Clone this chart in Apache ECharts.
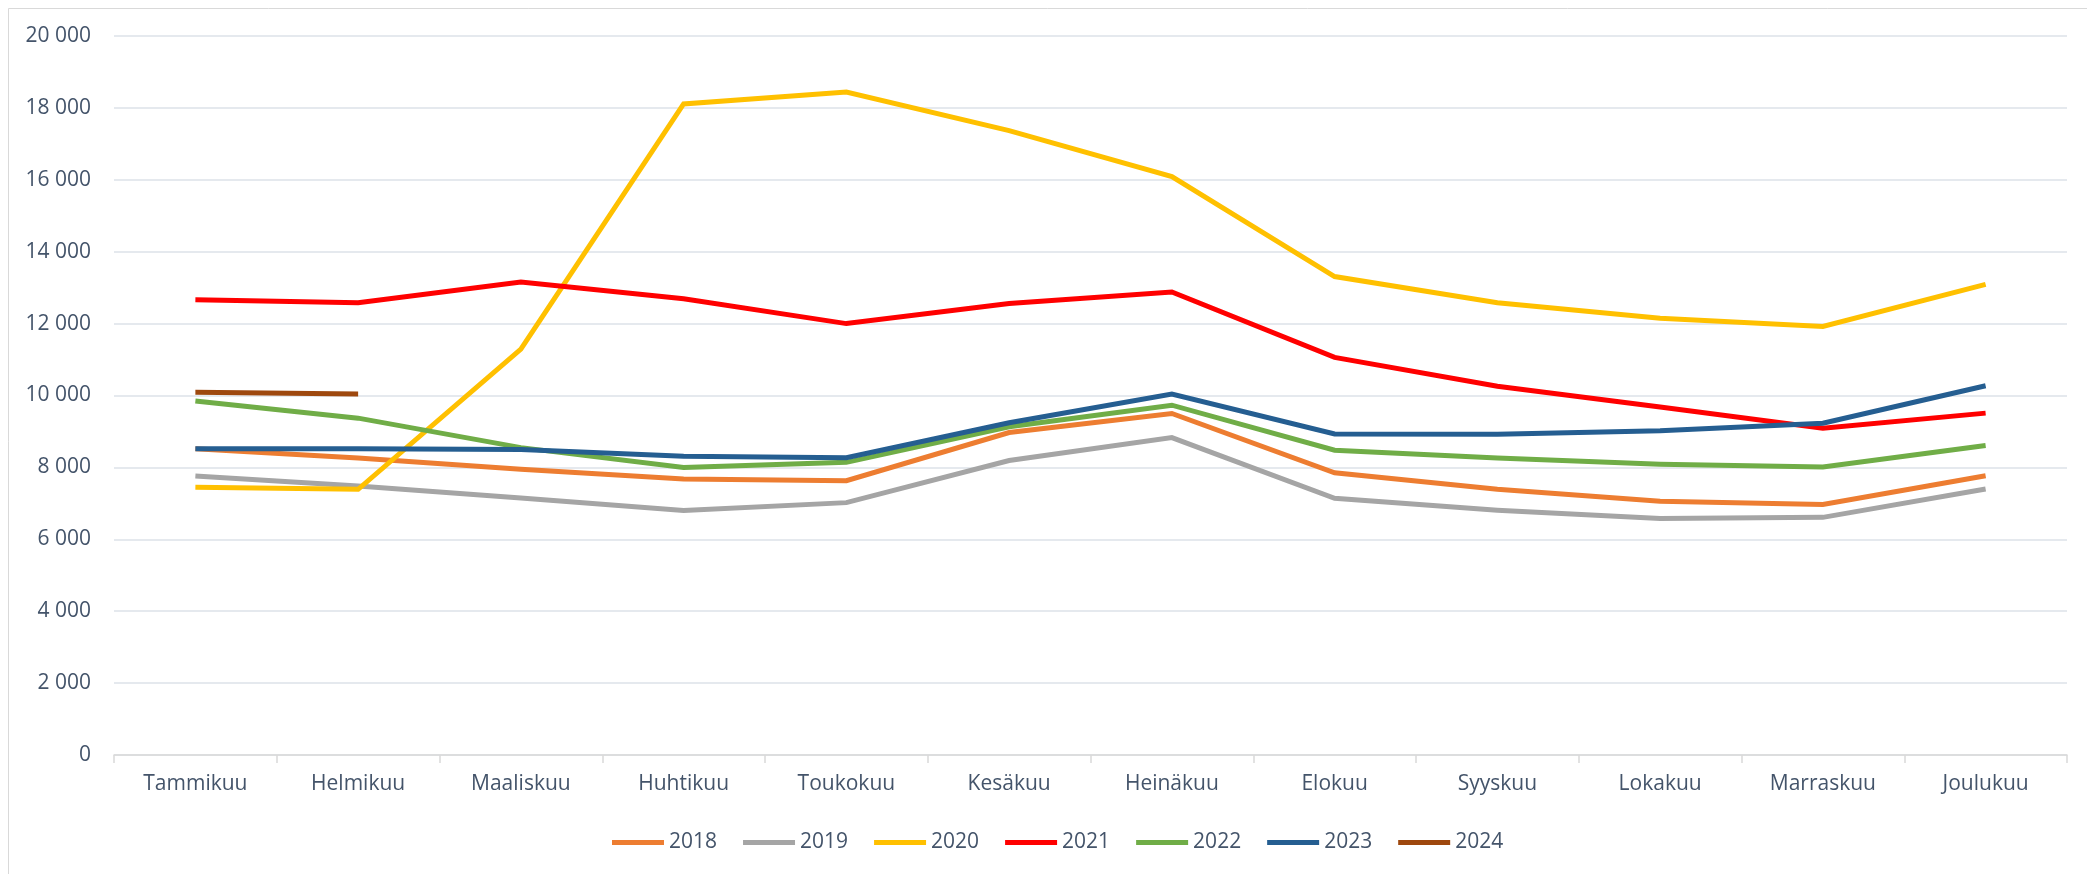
<!DOCTYPE html>
<html>
<head>
<meta charset="utf-8">
<script src="https://cdn.jsdelivr.net/npm/echarts@6/dist/echarts.min.js"></script>
<style>
html,body{margin:0;padding:0;background:#fff;}
#chart{width:2087px;height:874px;}
</style>
</head>
<body>
<div id="chart"></div>
<script>
const months = ['Tammikuu','Helmikuu','Maaliskuu','Huhtikuu','Toukokuu','Kesäkuu','Heinäkuu','Elokuu','Syyskuu','Lokakuu','Marraskuu','Joulukuu'];
const years = ['2018','2019','2020','2021','2022','2023','2024'];
const v2018 = [8520, 8260, 7950, 7680, 7630, 8970, 9500, 7850, 7390, 7060, 6970, 7770];
const v2019 = [7760, 7480, 7150, 6800, 7020, 8190, 8830, 7140, 6810, 6580, 6610, 7400];
const v2020 = [7450, 7390, 11290, 18110, 18440, 17370, 16090, 13310, 12580, 12150, 11920, 13090];
const v2021 = [12660, 12580, 13160, 12690, 12000, 12560, 12880, 11060, 10260, 9680, 9090, 9510];
const v2022 = [9850, 9370, 8550, 8000, 8140, 9130, 9730, 8480, 8260, 8090, 8010, 8610];
const v2023 = [8520, 8520, 8500, 8310, 8270, 9240, 10040, 8930, 8920, 9020, 9230, 10270];
const v2024 = [10090, 10040];
const yTicks = [0, 2000, 4000, 6000, 8000, 10000, 12000, 14000, 16000, 18000, 20000];

const seriesValues = [v2018, v2019, v2020, v2021, v2022, v2023, v2024];
const colors = ['#ED7D31','#A5A5A5','#FFC000','#FF0000','#70AD47','#255E91','#9E480E'];
const textColor = '#44546A';
const font = '"Open Sans", "Noto Sans", sans-serif';

const chart = echarts.init(document.getElementById('chart'), null, {renderer:'canvas'});
chart.setOption({
  animation: false,
  backgroundColor: '#fff',
  color: colors,
  textStyle: {fontFamily: font},
  graphic: [
    {type:'line', shape:{x1:8.5, y1:8.5, x2:2087, y2:8.5}, style:{stroke:'#D9D9D9', lineWidth:1}},
    {type:'line', shape:{x1:8.5, y1:8.5, x2:8.5, y2:874}, style:{stroke:'#D9D9D9', lineWidth:1}}
  ],
  grid: {left:114, right:20, top:36, bottom:119, containLabel:false},
  legend: {
    data: years,
    left: 607,
    top: 827,
    icon: 'rect',
    itemWidth: 52,
    itemHeight: 5,
    itemGap: 26,
    textStyle: {color: textColor, fontSize: 21, fontFamily: font}
  },
  xAxis: {
    type: 'category',
    data: months,
    boundaryGap: true,
    axisLine: {lineStyle:{color:'#D9D9D9', width:1.5}},
    axisTick: {show:true, length:8, lineStyle:{color:'#D9D9D9', width:1.5}},
    axisLabel: {color:textColor, fontSize:21, margin:19, fontFamily:font, interval:0}
  },
  yAxis: {
    type: 'value',
    min: yTicks[0],
    max: yTicks[yTicks.length-1],
    interval: yTicks[1]-yTicks[0],
    axisLine: {show:false},
    axisTick: {show:false},
    splitLine: {lineStyle:{color:'#DDE2E9', width:1.5}},
    axisLabel: {
      color:textColor, fontSize:21, margin:23, fontFamily:font,
      formatter: v => String(v).replace(/\B(?=(\d{3})+(?!\d))/g, '\u00a0')
    }
  },
  series: seriesValues.map((vals, i) => ({
    name: years[i],
    type: 'line',
    data: vals,
    showSymbol: false,
    symbol: 'none',
    lineStyle: {width:5, color: colors[i], join:'miter'},
    itemStyle: {color: colors[i]},
    z: 2 + i
  }))
});
</script>
</body>
</html>
